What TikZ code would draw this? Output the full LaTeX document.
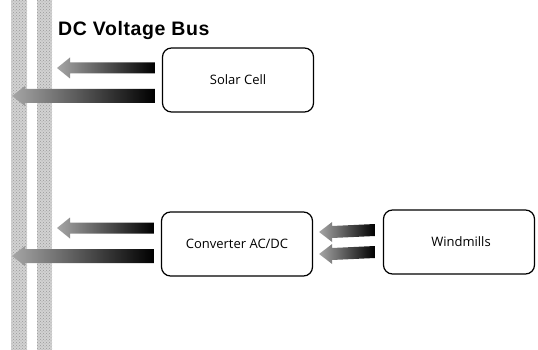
\documentclass[tikz,border=0pt]{standalone}
\usepackage{fontspec}
\setmainfont{Open Sans}
\newfontfamily\titlefont[LetterSpace=3]{Liberation Sans}
\usetikzlibrary{calc,patterns}
\newcommand{\busarrow}[4]{% tail, tip, half shaft, half head
  \path[left color=gray!70, middle color=black!80, right color=black]
    ($(#1)+(0,-#3)$) -- ($(#2)+(13,-#3)$) -- ($(#2)+(13,-#4)$) -- (#2)
    -- ($(#2)+(13,#4)$) -- ($(#2)+(13,#3)$) -- ($(#1)+(0,#3)$) -- cycle;}
\begin{document}
\begin{tikzpicture}[x=1pt,y=-1pt,
  box/.style={draw=black, line width=1.2pt, rounded corners=9pt,
    minimum width=151pt, minimum height=64pt, inner sep=0pt,
    font=\fontsize{13}{15}\selectfont},
  busbar/.style={fill=gray!35, draw=none},
  busdots/.style={pattern=crosshatch dots, pattern color=gray!80}]
\useasboundingbox (0,0) rectangle (538,350);
% bus bars
\path[busbar] (11,0) rectangle (27,350);
\path[busdots] (11,0) rectangle (27,350);
\path[busbar] (37,0) rectangle (52,350);
\path[busdots] (37,0) rectangle (52,350);
\node[anchor=base west, font=\titlefont\bfseries\fontsize{19.5}{22}\selectfont, inner sep=0pt] (title) at (58,36) {DC Voltage Bus};
% boxes
\node[box] (solar) at (238,80) {Solar Cell};
\node[box] (conv) at (237,244) {Converter AC/DC};
\node[box] (wind) at (459,242) {\hspace{4pt}Windmills};
% coordinates for arrows
\coordinate (s1t) at ($(solar.west)+(-7,-12)$);
\coordinate (s1h) at (57,68);
\coordinate (s2t) at ($(solar.west)+(-7,16)$);
\coordinate (s2h) at (12,96);
\coordinate (c1t) at ($(conv.west)+(-7,-16)$);
\coordinate (c1h) at (57,228);
\coordinate (c2t) at ($(conv.west)+(-7,12)$);
\coordinate (c2h) at (12,256);
\coordinate (w1t) at ($(wind.west)+(-8,-12)$);
\coordinate (w1h) at ($(conv.east)+(6,-12)$);
\coordinate (w2t) at ($(wind.west)+(-8,10)$);
\coordinate (w2h) at ($(conv.east)+(6,10)$);
\busarrow{s1t}{s1h}{5.5}{10.5}
\busarrow{s2t}{s2h}{7}{10}
\busarrow{c1t}{c1h}{5.5}{10.5}
\busarrow{c2t}{c2h}{7}{10}
\busarrow{w1t}{w1h}{6}{10}
\busarrow{w2t}{w2h}{6}{10}
\end{tikzpicture}
\end{document}
